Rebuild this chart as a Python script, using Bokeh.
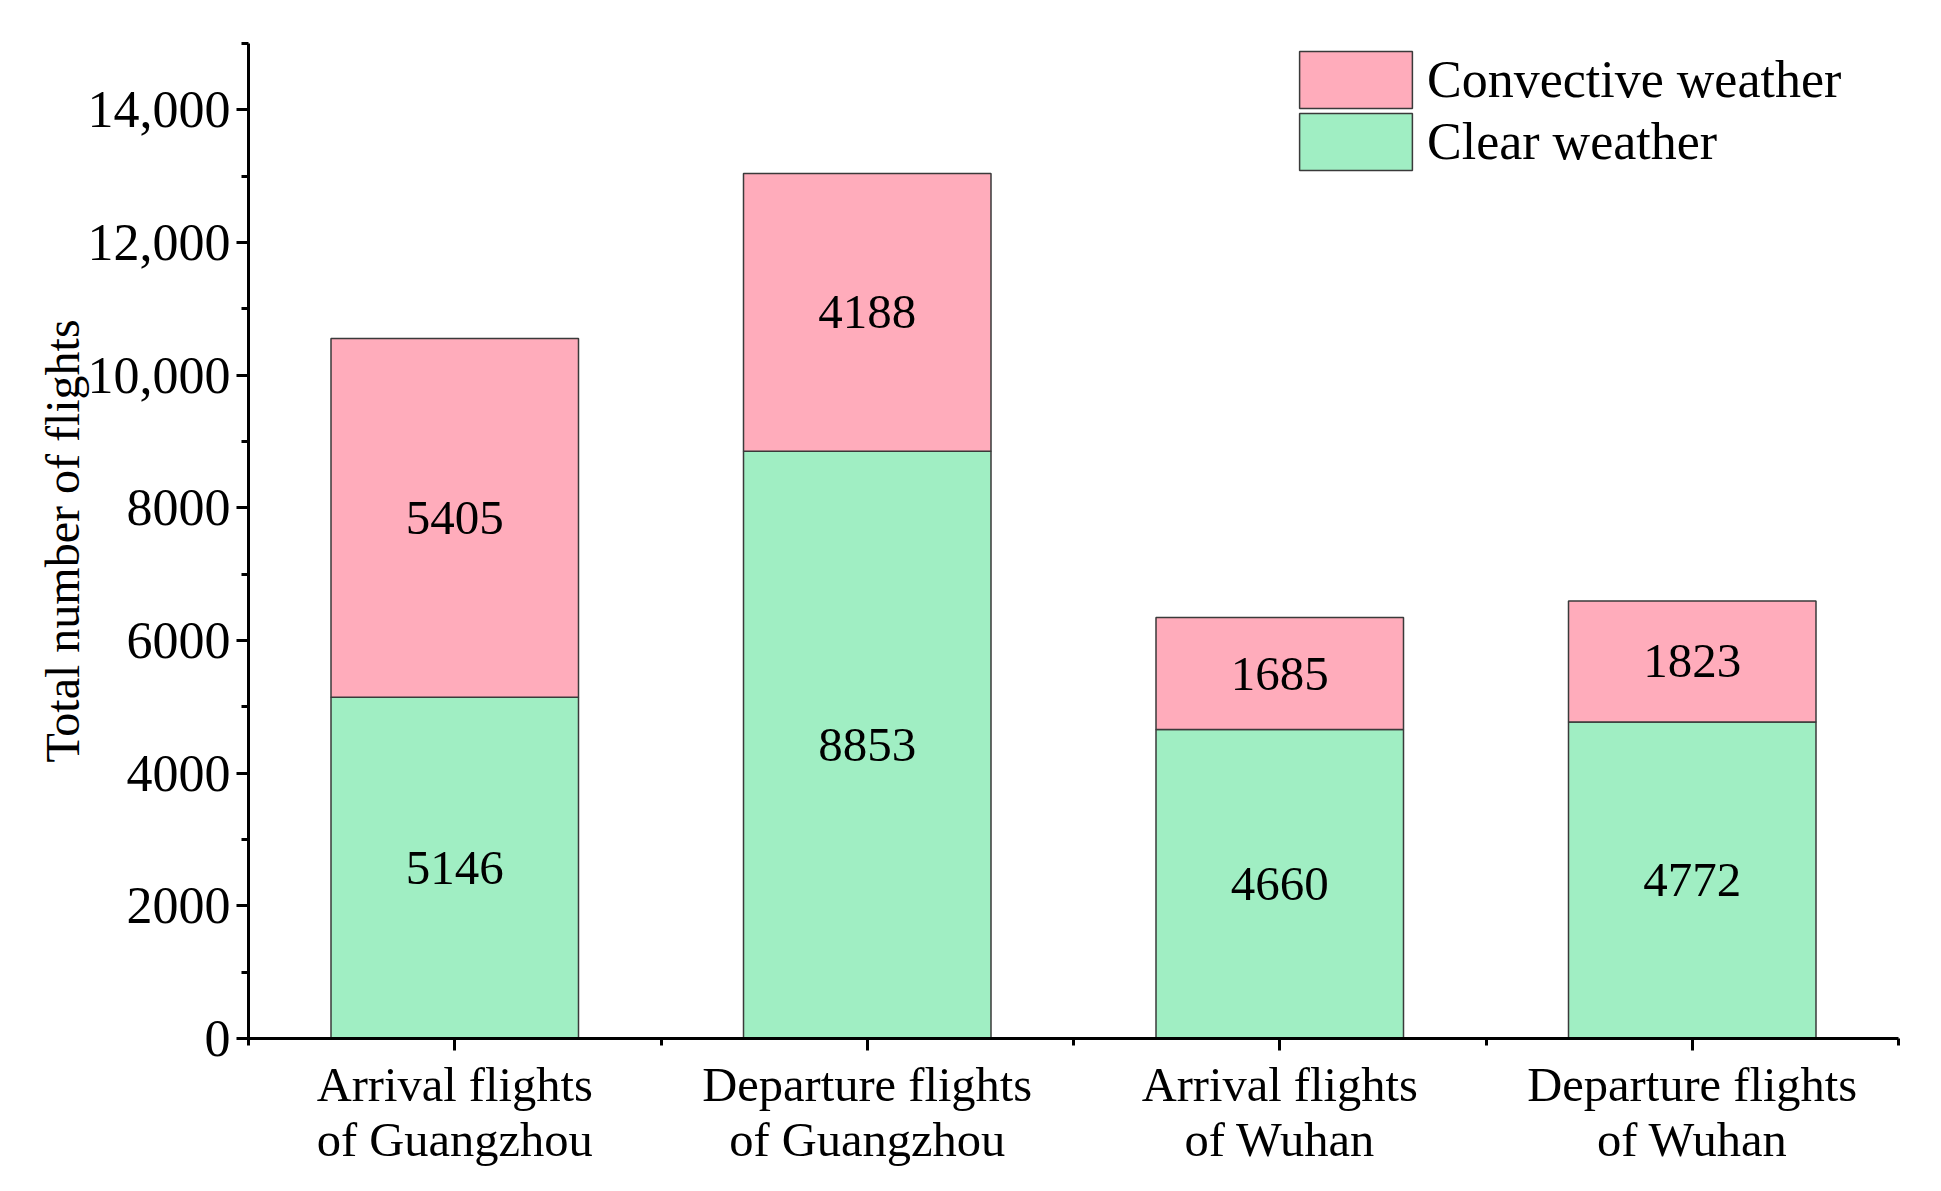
from bokeh.plotting import figure
from bokeh.models import FixedTicker, Range1d, Legend, LegendItem, ColumnDataSource
from bokeh.core.properties import value
from bokeh.embed import file_html
from bokeh.resources import INLINE

# ---- data ----
categories = ["Arrival flights\nof Guangzhou", "Departure flights\nof Guangzhou",
              "Arrival flights\nof Wuhan", "Departure flights\nof Wuhan"]
clear_weather = [5146, 8853, 4660, 4772]
convective_weather = [5405, 4188, 1685, 1823]
y_tick_values = [0, 2000, 4000, 6000, 8000, 10000, 12000, 14000]
y_tick_labels = ["0", "2000", "4000", "6000", "8000", "10,000", "12,000", "14,000"]
y_minor_values = [0, 1000, 2000, 3000, 4000, 5000, 6000, 7000, 8000, 9000,
                  10000, 11000, 12000, 13000, 14000, 15000]
series_names = ["Convective weather", "Clear weather"]

FONT = "Liberation Serif"
PINK = "#FFACBB"
GREEN = "#A0EEC3"
EDGE = "#3a3a3a"

n = len(categories)
xc = [i + 0.5 for i in range(n)]
total = [c + v for c, v in zip(clear_weather, convective_weather)]
src = ColumnDataSource(dict(
    x=xc, clear=clear_weather, conv=convective_weather, total=total,
    clear_mid=[c / 2 for c in clear_weather],
    conv_mid=[c + v / 2 for c, v in zip(clear_weather, convective_weather)],
    clear_txt=[str(c) for c in clear_weather],
    conv_txt=[str(v) for v in convective_weather],
))

W, H = 1925, 1175
TOP, BOTTOM = 43, 137
p = figure(width=W, height=H, output_backend="svg", toolbar_location=None,
           x_range=Range1d(0, n), y_range=Range1d(0, 15000),
           min_border_left=248, min_border_right=27, min_border_top=TOP,
           min_border_bottom=BOTTOM)
p.outline_line_color = None
p.xgrid.visible = False
p.ygrid.visible = False
p.background_fill_color = "white"

r_clear = p.vbar(x="x", bottom=0, top="clear", width=0.6, source=src,
                 fill_color=GREEN, line_color=EDGE, line_width=1.5)
r_conv = p.vbar(x="x", bottom="clear", top="total", width=0.6, source=src,
                fill_color=PINK, line_color=EDGE, line_width=1.5)

p.text(x="x", y="clear_mid", text="clear_txt", source=src,
       text_font=value(FONT), text_font_size="49px", text_align="center",
       text_baseline="middle", text_color="black")
p.text(x="x", y="conv_mid", text="conv_txt", source=src,
       text_font=value(FONT), text_font_size="49px", text_align="center",
       text_baseline="middle", text_color="black")

# y axis
ya = p.yaxis[0]
ya.ticker = FixedTicker(ticks=y_tick_values, minor_ticks=y_minor_values)
ya.major_label_overrides = {v: s for v, s in zip(y_tick_values, y_tick_labels)}
ya.axis_line_width = 3
ya.major_tick_line_width = 3
ya.minor_tick_line_width = 3
ya.major_tick_out = 12
ya.major_tick_in = 0
ya.minor_tick_out = 7
ya.minor_tick_in = 0
ya.major_label_standoff = 6
ya.major_label_text_font = FONT
ya.major_label_text_font_size = "52px"
ya.major_label_text_color = "black"
ya.axis_line_color = "black"
ya.axis_label = "Total number of flights"
ya.axis_label_text_font = FONT
ya.axis_label_text_font_size = "48px"
ya.axis_label_text_font_style = "normal"
ya.axis_label_text_color = "black"
ya.axis_label_standoff = -4

# x axis
xa = p.xaxis[0]
xa.ticker = FixedTicker(ticks=xc, minor_ticks=list(range(n + 1)))
xa.major_label_overrides = {x: c for x, c in zip(xc, categories)}
xa.axis_line_width = 3
xa.major_tick_line_width = 3
xa.minor_tick_line_width = 3
xa.major_tick_out = 12
xa.major_tick_in = 0
xa.minor_tick_out = 7
xa.minor_tick_in = 0
xa.major_label_standoff = 7
xa.major_label_text_font = FONT
xa.major_label_text_font_size = "48.5px"
xa.major_label_text_line_height = 1.05
xa.major_label_text_color = "black"
xa.axis_line_color = "black"

# legend: one Legend per entry so that the rows can sit closer than the glyph box
FH = H - TOP - BOTTOM
GH = 71
leg_y = [FH - GH - 1, FH - GH - 1 - 62]
for name, rend, ly in zip(series_names, [r_conv, r_clear], leg_y):
    lg = Legend(items=[LegendItem(label=name, renderers=[rend])],
                location=(1037, ly), orientation="vertical",
                glyph_width=141, glyph_height=GH, label_height=GH, spacing=0,
                label_standoff=1, padding=0, margin=0,
                label_text_font=FONT, label_text_font_size="52px",
                label_text_baseline="middle", label_text_color="black",
                border_line_alpha=0, background_fill_alpha=0)
    p.add_layout(lg)

open("out.html", "w").write(file_html(p, INLINE))
